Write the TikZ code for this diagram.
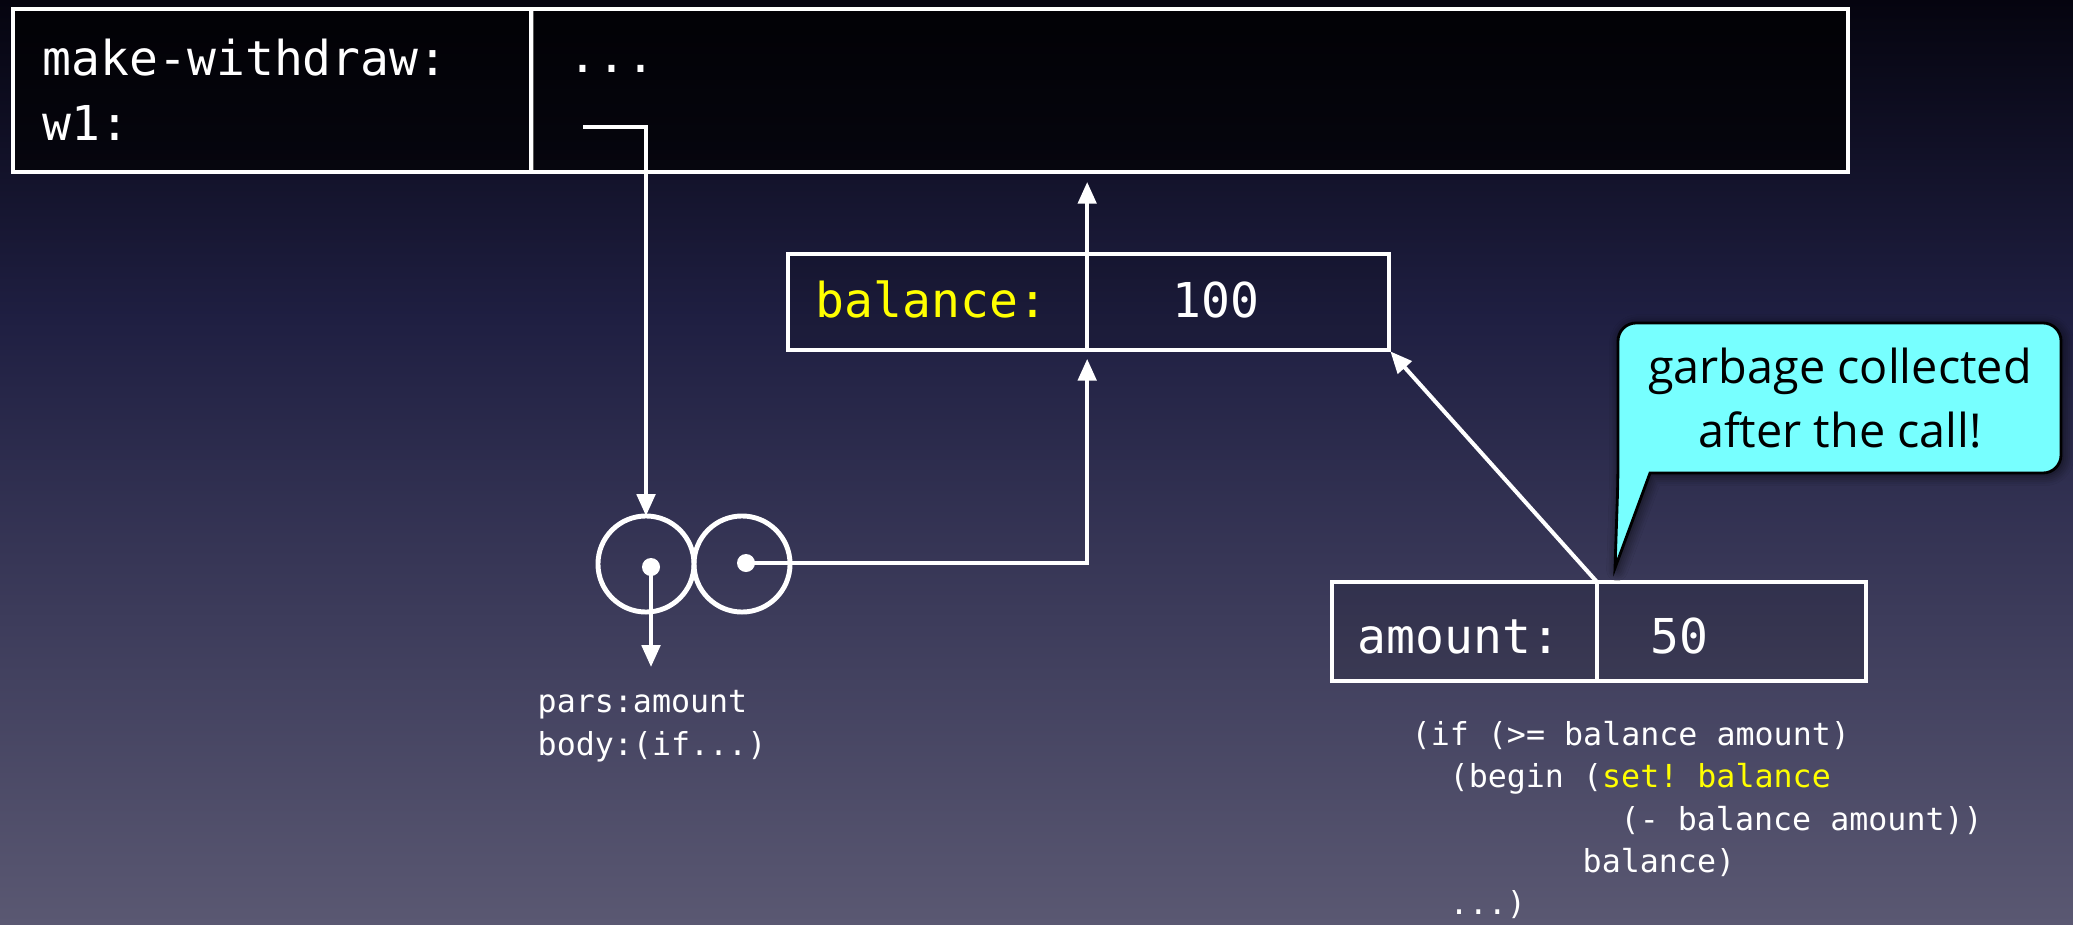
\documentclass[tikz,border=0pt]{standalone}
\usepackage{fontspec}
\usetikzlibrary{arrows.meta,shadows.blur}
\newfontfamily\monofont{DejaVu Sans Mono}
\newfontfamily\calloutfont{Open Sans}
\frenchspacing
\definecolor{bgtop}{HTML}{05040F}
\definecolor{bgup}{HTML}{1F1F42}
\definecolor{bglow}{HTML}{3D3C5B}
\definecolor{bgbot}{HTML}{5A5872}
\definecolor{noteblue}{HTML}{77FFFF}
\definecolor{hilite}{HTML}{FFFF00}
\pgfdeclareverticalshading{slidebg}{100bp}{color(0bp)=(bgbot); color(25bp)=(bgbot); color(41.45bp)=(bglow); color(57.7bp)=(bgup); color(75bp)=(bgtop); color(100bp)=(bgtop)}
\tikzset{
  bigtxt/.style={font=\monofont\fontsize{13.66pt}{16pt}\selectfont, text=white, inner sep=0pt, anchor=base west},
  smalltxt/.style={font=\monofont\fontsize{9pt}{11pt}\selectfont, text=white, inner sep=0pt, anchor=base west},
  notetxt/.style={font=\calloutfont\fontsize{13.3pt}{16pt}\selectfont, text=black, inner sep=0pt, anchor=base},
  cell/.style={draw=white, line width=1.3pt, inner sep=0pt, outer sep=0pt, anchor=north west, fill=black, fill opacity=0.12},
  framecell/.style={cell, fill opacity=0.65},
  ring/.style={circle, draw=white, line width=1.4pt, minimum size=0.96cm, inner sep=0pt, outer sep=0pt},
  dot/.style={circle, fill=white, minimum size=0.18cm, inner sep=0pt, outer sep=0pt},
  ptr/.style={draw=white, line width=1.15pt, -{Triangle[length=6.2pt,width=5.2pt]}}
}
\begin{document}
\begin{tikzpicture}[x=0.01cm, y=-0.01cm]
\useasboundingbox (0,0) rectangle (2073,924);
% slide background
\shade[shading=slidebg] (0,0) rectangle (2073,924);

% global frame
\node[framecell, minimum width=5.18cm, minimum height=1.63cm] (topL) at (13,9) {};
\node[framecell, minimum width=13.16cm, minimum height=1.63cm] (topR) at (531,9) {};
\node[bigtxt] (lblmw) at (42,75) {make-withdraw:};
\node[bigtxt] (lblw) at (42,140) {w1:};
\node[bigtxt] (lbldots) at (568,72) {...};
\coordinate (w1tail) at (583,127);

% frame created by the call
\node[cell, minimum width=2.99cm, minimum height=0.96cm] (balL) at (788,254) {};
\node[cell, minimum width=3.02cm, minimum height=0.96cm] (balR) at (1087,254) {};
\node[bigtxt, text=hilite] (lblbal) at (815,317) {balance:};
\node[bigtxt] (valbal) at (1172,317) {100};

% frame of the application
\node[cell, minimum width=2.65cm, minimum height=0.99cm] (amtL) at (1332,582) {};
\node[cell, minimum width=2.69cm, minimum height=0.99cm] (amtR) at (1597,582) {};
\node[bigtxt] (lblamt) at (1357,653) {amount:};
\node[bigtxt] (valamt) at (1650,653) {50};

% procedure object
\node[ring] (pairL) at (646,564) {};
\node[ring] (pairR) at (742,564) {};
\node[dot] (dotL) at (651,567) {};
\node[dot] (dotR) at (746,563) {};
\coordinate (codeptr) at (651,667);
\node[smalltxt] (pars) at (537,712) {pars:amount};
\node[smalltxt] (body) at (537,755) {body:(if...)};

% body being evaluated
\node[smalltxt] (cl1) at (1411,745) {(if (>= balance amount)};
\node[smalltxt] (cl2) at (1449,787) {(begin (\textcolor{hilite}{set! balance}};
\node[smalltxt] (cl3) at (1620,830) {(- balance amount))};
\node[smalltxt] (cl4) at (1582,872) {balance)};
\node[smalltxt] (cl5) at (1449,914) {...)};

% pointers
\draw[ptr] (w1tail) -| (pairL.north);
\draw[ptr] (dotL.center) -- (codeptr);
\draw[ptr, shorten >=2.5pt] (dotR.center) -| (balL.south east);
\draw[ptr, shorten >=2.8pt] (balL.north east) -- (balL.north east |- topR.south);
\draw[ptr, shorten >=0.5pt] (amtR.north west) -- (balR.south east);

% speech bubble
\path[draw=black, line width=0.8pt, fill=noteblue,
      blur shadow={shadow xshift=0.6pt, shadow yshift=-0.6pt, shadow blur steps=6, shadow blur radius=3pt, shadow opacity=70}]
  (1650,473) [rounded corners=0.18cm] -- (2061,473) -- (2061,323) -- (1618,323) -- (1618,478)
  [sharp corners] -- (1615,568) -- cycle;
\node[notetxt] (gc1) at (1840,383) {garbage collected};
\node[notetxt] (gc2) at (1840,447) {after the call!};
\end{tikzpicture}
\end{document}
